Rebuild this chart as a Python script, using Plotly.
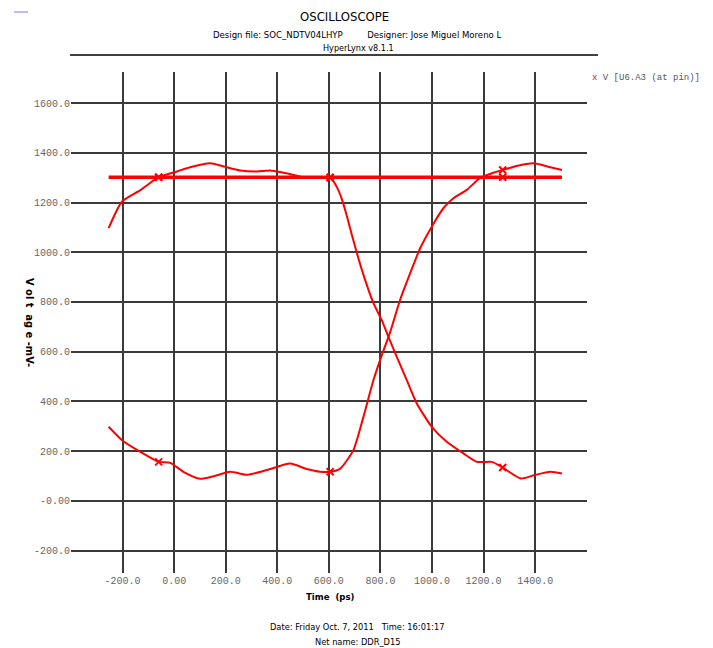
import plotly.graph_objects as go

# ---------------- data ----------------
# constant-high waveform
flat_t = [-254, 100, 400, 800, 1200, 1504]
flat_v = [1302, 1302, 1300, 1300, 1302, 1302]

# waveform that starts high and falls
fall_t = [-254, -202, -131, -60, 11, 62, 140, 192, 256, 320, 372, 424, 463, 502,
          550, 606, 631, 650, 670, 689, 728, 773, 805, 831, 863, 902, 941, 999,
          1057, 1122, 1174, 1232, 1274, 1344, 1395, 1459, 1504]
fall_v = [1097, 1204, 1250, 1302, 1325, 1342, 1358, 1345, 1329, 1325, 1329, 1320, 1311, 1302,
          1300, 1300, 1262, 1215, 1145, 1070, 929, 795, 727, 660, 580, 486, 392, 298,
          238, 191, 157, 157, 134, 90, 103, 117, 110]

# waveform that starts low and rises
rise_t = [-254, -202, -131, -60, -15, 36, 101, 153, 217, 282, 360, 450, 515, 566,
          605, 644, 695, 734, 773, 805, 838, 876, 915, 954, 999, 1044, 1083, 1135,
          1186, 1238, 1274, 1344, 1395, 1447, 1504]
rise_v = [298, 244, 197, 157, 153, 117, 89, 99, 117, 105, 124, 150, 128, 117,
          117, 130, 204, 338, 486, 585, 680, 808, 915, 1016, 1103, 1177, 1217, 1251,
          1298, 1320, 1331, 1351, 1358, 1345, 1331]

# marker positions on each waveform
mark_t = [-60, 605, 1274, -60, 605, 1274, -60, 605, 1274]
mark_v = [1302, 1302, 1302, 1302, 1300, 134, 157, 117, 1331]

# threshold levels (light blue)
thresholds = [925, 850, 650, 575]

# axes
x_ticks = [-200, 0, 200, 400, 600, 800, 1000, 1200, 1400, 1600]
x_labels = ["-200.0", "0.00", "200.0", "400.0", "600.0", "800.0", "1000.0", "1200.0", "1400.0", ""]
y_ticks = [-200, 0, 200, 400, 600, 800, 1000, 1200, 1400, 1600]
y_labels = ["-200.0", "-0.00", "200.0", "400.0", "600.0", "800.0", "1000.0", "1200.0", "1400.0", "1600.0"]

# ---------------- figure ----------------
RED = "#ff0000"
NARROW = "Liberation Sans Narrow, Arial Narrow, DejaVu Sans Condensed, sans-serif"
MONO = "Liberation Mono, DejaVu Sans Mono, monospace"

fig = go.Figure()
fig.add_trace(go.Scatter(x=flat_t, y=flat_v, mode="lines",
                         line=dict(color=RED, width=3.5), hoverinfo="skip"))
fig.add_trace(go.Scatter(x=fall_t, y=fall_v, mode="lines",
                         line=dict(color=RED, width=2, shape="spline", smoothing=0.6)))
fig.add_trace(go.Scatter(x=rise_t, y=rise_v, mode="lines",
                         line=dict(color=RED, width=2, shape="spline", smoothing=0.6)))
fig.add_trace(go.Scatter(x=mark_t, y=mark_v, mode="markers",
                         marker=dict(symbol="x-thin", size=7, color=RED,
                                     line=dict(color=RED, width=2))))

for th in thresholds:
    fig.add_hline(y=th, line=dict(color="#b4b8ff", width=1), layer="below")

# plot area in pixels: x 71..587, y 72..573
L, R, T, B = 71, 587, 72, 573
W, H = 713, 648


def px(xp):
    return (xp - L) / (R - L)


def py(yp):
    return (B - yp) / (B - T)


annotations = [
    dict(text="OSCILLOSCOPE", x=px(344), y=py(17), font=dict(family=NARROW, size=13, color="#000")),
    dict(text="Design file: SOC_NDTV04LHYP&nbsp;&nbsp;&nbsp;&nbsp;&nbsp;&nbsp;&nbsp;&nbsp;&nbsp;Designer: Jose Miguel Moreno L",
         x=px(357), y=py(34), font=dict(family=NARROW, size=9.5, color="#000")),
    dict(text="HyperLynx v8.1.1", x=px(358), y=py(48), font=dict(family=NARROW, size=9, color="#000")),
    dict(text="<b>Time  (ps)</b>", x=px(330), y=py(596), font=dict(family=NARROW, size=9.5, color="#000")),
    dict(text="<b>V ol t  ag e -mV-</b>", x=px(30), y=py(322), textangle=90,
         font=dict(family=NARROW, size=11, color="#000")),
    dict(text="Date: Friday Oct. 7, 2011&nbsp;&nbsp;&nbsp;Time: 16:01:17", x=px(357), y=py(626),
         font=dict(family=NARROW, size=9.2, color="#000")),
    dict(text="Net name: DDR_D15", x=px(357), y=py(641), font=dict(family=NARROW, size=9.2, color="#000")),
    dict(text='<span style="color:#ff0000">x</span> V [U6.A3 (at pin)]', x=px(590), y=py(78),
         xanchor="left", font=dict(family=MONO, size=9, color="#555")),
]
for a in annotations:
    a.setdefault("xanchor", "center")
    a.update(xref="paper", yref="paper", yanchor="middle", showarrow=False)

fig.update_layout(
    width=W, height=H,
    margin=dict(l=L, r=W - R, t=T, b=H - B, pad=0),
    paper_bgcolor="white", plot_bgcolor="white",
    showlegend=False,
    annotations=annotations,
    shapes=[
        dict(type="line", xref="paper", yref="paper", x0=px(70), x1=px(598), y0=py(55), y1=py(55),
             line=dict(color="#000", width=1)),
        dict(type="line", xref="paper", yref="paper", x0=px(14), x1=px(28), y0=py(12), y1=py(12),
             line=dict(color="#b4b8ff", width=1.5)),
    ],
    xaxis=dict(range=[-400, 1601], tickvals=x_ticks, ticktext=x_labels, showgrid=True,
               gridcolor="#3a3a3a", gridwidth=1.5, zeroline=False, showline=False, ticks="",
               tickfont=dict(family=MONO, size=10, color="#666")),
    yaxis=dict(range=[-290, 1725], tickvals=y_ticks, ticktext=y_labels, showgrid=True,
               gridcolor="#3a3a3a", gridwidth=1.5, zeroline=False, showline=False, ticks="",
               tickfont=dict(family=MONO, size=10, color="#666")),
)

fig.write_html("out.html", config={"displayModeBar": False},
               post_script="document.body.style.margin='0';document.body.style.overflow='hidden';")
